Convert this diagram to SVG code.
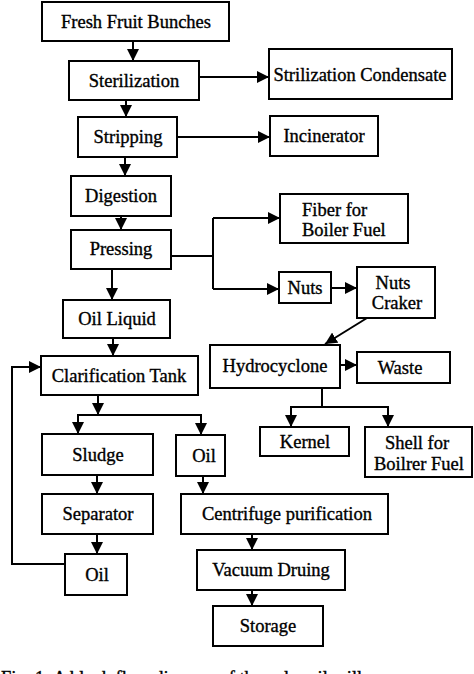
<svg xmlns="http://www.w3.org/2000/svg" width="474" height="674" viewBox="0 0 474 674" font-family="'Liberation Serif', 'Times New Roman', serif">
<defs>
<marker id="ah" markerUnits="userSpaceOnUse" markerWidth="12" markerHeight="12" refX="12" refY="6" orient="auto">
<path d="M0,0 L12,6 L0,12 z" fill="#000"/>
</marker>
<style>
rect{fill:#fff;stroke:#000;stroke-width:2}
text{font-family:'Liberation Serif','Times New Roman',serif;font-size:18.5px;fill:#000;stroke:#000;stroke-width:0.35px;text-anchor:middle}
.c path{fill:none;stroke:#000;stroke-width:2}
.c .a{marker-end:url(#ah)}
</style>
</defs>
<rect x="0" y="0" width="474" height="674" style="fill:#fff;stroke:none"/>
<g class="c" id="connectors">
<path class="a" d="M133,41 V61"/>
<path class="a" d="M199,77 H269"/>
<path class="a" d="M126,100 V117"/>
<path class="a" d="M177,137 H270"/>
<path class="a" d="M125,157 V176"/>
<path class="a" d="M121,216 V230"/>
<path d="M171,256 H213 M213,218 V289"/>
<path class="a" d="M213,218 H280"/>
<path class="a" d="M213,289 H279"/>
<path class="a" d="M331,288 H357"/>
<path class="a" d="M112,269 V300"/>
<path class="a" d="M113,338 V356"/>
<path class="a" d="M367,318 L325,344"/>
<path class="a" d="M340,365 H357"/>
<path d="M322,388 V407 M291,407 H388"/>
<path class="a" d="M291,406 V427"/>
<path class="a" d="M388,406 V427"/>
<path class="a" d="M98,395 V415"/>
<path d="M78,415 H201"/>
<path class="a" d="M78,414 V434"/>
<path class="a" d="M201,414 V435"/>
<path class="a" d="M97,475 V494"/>
<path class="a" d="M203,476 V494"/>
<path class="a" d="M97,534 V554"/>
<path class="a" d="M65,564 H12 V367 H41"/>
<path class="a" d="M252,534 V550"/>
<path class="a" d="M252,590 V606"/>
</g>
<g id="n-ffb"><rect x="42" y="2" width="187" height="39"/><text x="136" y="28">Fresh Fruit Bunches</text></g>
<g id="n-ster"><rect x="69" y="61" width="130" height="39"/><text x="134" y="87">Sterilization</text></g>
<g id="n-cond"><rect x="269" y="49" width="183" height="50"/><text x="360" y="81">Strilization Condensate</text></g>
<g id="n-strip"><rect x="78" y="117" width="99" height="40"/><text x="128" y="143">Stripping</text></g>
<g id="n-inc"><rect x="270" y="116" width="108" height="40"/><text x="324" y="142">Incinerator</text></g>
<g id="n-dig"><rect x="71" y="176" width="100" height="40"/><text x="121" y="202">Digestion</text></g>
<g id="n-press"><rect x="71" y="230" width="100" height="39"/><text x="121" y="255">Pressing</text></g>
<g id="n-fiber"><rect x="280" y="194" width="128" height="49"/><text x="302" y="216" style="text-anchor:start">Fiber for</text><text x="302" y="236" style="text-anchor:start">Boiler Fuel</text></g>
<g id="n-nuts"><rect x="279" y="272" width="52" height="31"/><text x="305" y="294">Nuts</text></g>
<g id="n-crack"><rect x="357" y="267" width="78" height="51"/><text x="393" y="289">Nuts</text><text x="397" y="309">Craker</text></g>
<g id="n-oilliq"><rect x="63" y="300" width="107" height="38"/><text x="117" y="325">Oil Liquid</text></g>
<g id="n-clar"><rect x="41" y="356" width="157" height="39"/><text x="119" y="382">Clarification Tank</text></g>
<g id="n-hydro"><rect x="210" y="345" width="130" height="43"/><text x="275" y="372">Hydrocyclone</text></g>
<g id="n-waste"><rect x="357" y="352" width="93" height="31"/><text x="400" y="374">Waste</text></g>
<g id="n-kernel"><rect x="260" y="427" width="89" height="29"/><text x="305" y="448">Kernel</text></g>
<g id="n-shell"><rect x="365" y="427" width="107" height="50"/><text x="417" y="449">Shell for</text><text x="419" y="470">Boilrer Fuel</text></g>
<g id="n-sludge"><rect x="42" y="434" width="111" height="41"/><text x="98" y="461">Sludge</text></g>
<g id="n-oil1"><rect x="176" y="435" width="49" height="41"/><text x="204" y="462">Oil</text></g>
<g id="n-sep"><rect x="42" y="494" width="111" height="40"/><text x="98" y="520">Separator</text></g>
<g id="n-centri"><rect x="181" y="494" width="207" height="40"/><text x="287" y="520">Centrifuge purification</text></g>
<g id="n-oil2"><rect x="65" y="554" width="62" height="41"/><text x="97" y="581">Oil</text></g>
<g id="n-vac"><rect x="197" y="550" width="148" height="40"/><text x="271" y="576">Vacuum Druing</text></g>
<g id="n-stor"><rect x="213" y="606" width="110" height="40"/><text x="268" y="632">Storage</text></g>
<text x="1" y="684" style="text-anchor:start">Fig. 1: A block flow diagram of the palm oil mill</text>
</svg>
